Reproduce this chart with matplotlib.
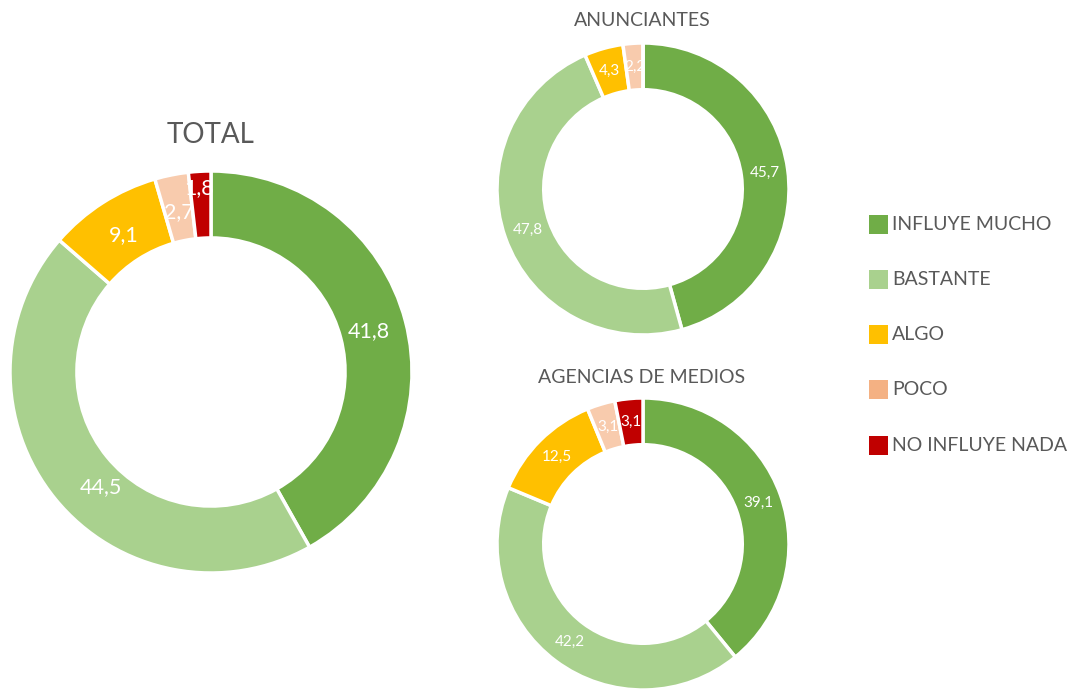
import matplotlib
matplotlib.use("Agg")
import numpy as np
from matplotlib import pyplot as plt
from matplotlib.patches import Rectangle

plt.rcParams["font.family"] = ["Lato", "DejaVu Sans"]

categories = ["INFLUYE MUCHO", "BASTANTE", "ALGO", "POCO", "NO INFLUYE NADA"]
total_values = [41.8, 44.5, 9.1, 2.7, 1.8]
anunciantes_values = [45.7, 47.8, 4.3, 2.2, 0.0]
agencias_values = [39.1, 42.2, 12.5, 3.1, 3.1]

SLICE_COLOURS = ["#70AD47", "#A9D18E", "#FFC000", "#F8CBAD", "#C00000"]
LEGEND_COLOURS = ["#70AD47", "#A9D18E", "#FFC000", "#F4B183", "#C00000"]
TEXT_GREY = "#595959"

W, H = 1072, 689


def px_axes(fig, cx, cy, r):
    # axes box from pixel centre/radius (top-left origin)
    return fig.add_axes([(cx - r) / W, (H - cy - r) / H, 2 * r / W, 2 * r / H])


def donut(ax, values, label_size, hole=0.67, label_r=None, nudge=None):
    nudge = nudge or {}
    width = 1 - hole
    wedges, _ = ax.pie(
        values,
        colors=SLICE_COLOURS,
        startangle=90,
        counterclock=False,
        radius=1,
        wedgeprops=dict(width=width, edgecolor="white", linewidth=2.5),
    )
    rr = label_r or (1 - width / 2)
    for i, (w, v) in enumerate(zip(wedges, values)):
        if v <= 0:
            continue
        ang = np.deg2rad((w.theta1 + w.theta2) / 2)
        ax.annotate(f"{v:.1f}".replace(".", ","),
                    xy=(rr * np.cos(ang), rr * np.sin(ang)),
                    xytext=nudge.get(i, (0, 0)), textcoords="offset pixels",
                    ha="center", va="center", color="white", fontsize=label_size)
    ax.set_xlim(-1, 1)
    ax.set_ylim(-1, 1)
    ax.set_aspect("equal")
    ax.axis("off")


fig = plt.figure(figsize=(W / 100, H / 100), dpi=100)

ax_total = px_axes(fig, 211, 372, 201)
donut(ax_total, total_values, 15.5, hole=0.667, label_r=0.81,
      nudge={1: (16, -12), 4: (-3, 21)})
fig.text(211 / W, 1 - 135 / H, "TOTAL", ha="center", va="center",
         fontsize=20, color=TEXT_GREY)

ax_anun = px_axes(fig, 643, 189, 146)
donut(ax_anun, anunciantes_values, 11, hole=0.68)
fig.text(642 / W, 1 - 20 / H, "ANUNCIANTES", ha="center", va="center",
         fontsize=14, color=TEXT_GREY)

ax_agen = px_axes(fig, 643, 544, 146)
donut(ax_agen, agencias_values, 11, hole=0.68)
fig.text(642 / W, 1 - 378 / H, "AGENCIAS DE MEDIOS", ha="center", va="center",
         fontsize=14, color=TEXT_GREY)

# legend drawn by hand
for i, (name, col) in enumerate(zip(categories, LEGEND_COLOURS)):
    y = 224 + i * 55.3
    fig.patches.append(Rectangle((869 / W, 1 - (y + 9.5) / H), 19 / W, 19 / H,
                                 transform=fig.transFigure, facecolor=col,
                                 edgecolor="none"))
    fig.text(892 / W, 1 - y / H, name, ha="left", va="center",
             fontsize=14, color=TEXT_GREY)

fig.savefig("out.png", dpi=100, facecolor="white")
